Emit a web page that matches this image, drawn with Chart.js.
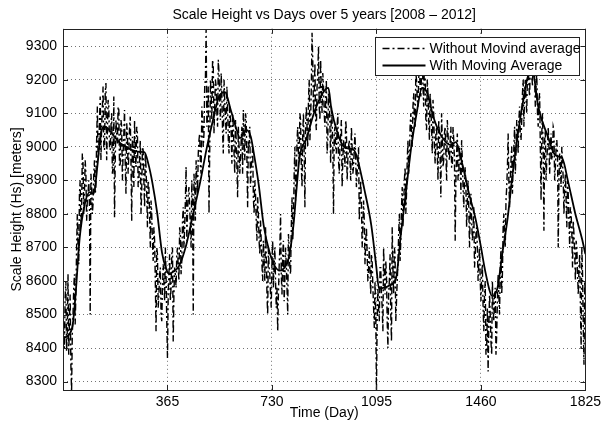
<!DOCTYPE html>
<html>
<head>
<meta charset="utf-8">
<script src="https://cdn.jsdelivr.net/npm/chart.js@4.4.1/dist/chart.umd.min.js"></script>
<style>
html,body{margin:0;padding:0;background:#fff;}
#wrap{width:605px;height:426px;}
</style>
</head>
<body>
<div id="wrap"><canvas id="c" width="605" height="426"></canvas></div>
<script>
// ---------------- data ----------------
const titleText = 'Scale Height vs Days over 5 years [2008 \u2013 2012]';
const xTitle = 'Time (Day)';
const yTitle = 'Scale Height (Hs) [meters]';
const seriesNames = ['Without Movind average', 'With Moving Average'];

const xTicks = [365, 730, 1095, 1460, 1825];
const yTicks = [8300, 8400, 8500, 8600, 8700, 8800, 8900, 9000, 9100, 9200, 9300];

// raw readings on days 0, 5, 10, ... 1825
const noisyStepDays = 5;
const noisyValues = [
  8520,8400,8600,8450,8380,8560,8270,8500,8620,8560,
  8800,8650,8900,8820,8950,8870,8920,8840,8900,8500,
  8880,8830,8960,8880,9120,8990,9150,9060,9180,8990,
  9190,9050,9120,8990,9100,8940,8790,9080,9010,9110,
  8950,9060,8980,9110,8860,9040,8980,9090,8780,9000,
  9080,8940,9040,8900,9020,8870,8990,8820,8940,8760,
  8880,8700,8800,8660,8720,8450,8680,8560,8640,8480,
  8650,8540,8620,8370,8620,8540,8680,8420,8640,8580,
  8700,8600,8740,8660,8820,8760,8940,8800,8880,8760,
  8900,8500,8880,8960,8860,9020,8940,9120,9000,9180,
  9350,9100,8800,9200,9080,9240,9120,9180,9060,9220,
  9080,9160,8980,9140,9040,9120,8980,9080,8950,9060,
  8920,9020,8850,9000,8960,9060,9110,8960,9080,8820,
  9000,8880,8960,8850,8900,8780,8850,8720,8780,8650,
  8720,8600,8680,8500,8640,8560,8660,8580,8700,8520,
  8450,8640,8800,8560,8720,8600,8650,8500,8700,8620,
  8850,8780,9000,8900,9060,8960,9080,8880,9100,8820,
  9120,9000,9200,9080,9340,9100,9250,9050,9220,9120,
  9260,9100,9180,9060,9200,9020,9140,8950,9080,8800,
  9060,8980,9100,8920,9040,8880,9020,8940,9050,8960,
  9020,8900,9000,8940,9040,8880,8960,8780,8900,8700,
  8840,8650,8760,8600,8700,8560,8660,8520,8600,8270,
  8580,8480,8640,8520,8700,8560,8620,8400,8600,8500,
  8760,8560,8680,8540,8650,8800,8720,8880,8820,8940,
  8860,9020,8960,9100,9000,9160,9060,9200,9120,9250,
  9150,9270,9120,9220,9050,9160,9020,9120,8980,9100,
  8950,9060,8900,9040,8850,9020,8960,9060,8900,9040,
  8960,9060,8940,9020,8720,8980,8900,9000,8860,8960,
  8820,8940,8760,8900,8700,8860,8720,8820,8680,8760,
  8600,8700,8540,8650,8450,8600,8400,8330,8560,8420,
  8600,8480,8580,8440,8620,8500,8700,8620,8800,8700,
  8880,9040,8820,8960,8860,9000,8920,9080,8980,9120,
  9020,9160,9060,9200,9100,9260,9150,9300,9180,9280,
  9120,9220,9060,9160,8840,9100,8750,9050,8960,9060,
  8920,9040,8980,9050,8940,9020,8700,8980,8880,8960,
  8800,8920,8760,8860,8700,8800,8640,8740,8600,8700,
  8560,8680,8400,8620,8350,8560
];
// raw readings on the days in between: 2.5, 7.5, ... 1822.5
const noisyMidValues = [
  8460,8550,8390,8620,8480,8350,8440,8580,8470,8700,
  8700,8860,8760,8980,8800,8960,8780,8860,8820,8920,
  8800,8920,8860,9020,8960,9080,8960,9120,9000,9160,
  8960,9140,9000,9060,8920,9150,8960,9040,9120,8940,
  9080,8900,9040,8940,9070,8920,9060,8950,9030,8880,
  8980,9060,8880,8960,8800,9000,8900,8980,8860,8900,
  8800,8840,8720,8760,8600,8700,8520,8620,8500,8580,
  8600,8700,8480,8560,8680,8580,8700,8560,8620,8680,
  8640,8760,8620,8780,8700,8840,8720,8860,8820,8700,
  8820,8920,8780,8900,8980,9040,8920,9080,9040,9200,
  9060,9180,8980,9160,9260,9040,9200,9100,9260,9140,
  9220,9040,9200,9080,9180,9020,9120,9040,9100,8980,
  9080,8940,9060,8920,9020,8920,9040,9100,8960,9020,
  9060,8940,9000,8800,8860,8720,8800,8680,8720,8600,
  8660,8760,8560,8700,8620,8520,8720,8640,8600,8580,
  8560,8700,8620,8680,8540,8700,8580,8740,8640,8760,
  8720,8920,8840,9020,8980,9100,8940,9040,8980,9060,
  9060,9140,9020,9180,9260,9160,9080,9180,9300,9080,
  9160,9220,9100,9140,8980,9160,9060,9120,9000,9040,
  9000,9060,8960,9000,9080,8960,8980,9080,8900,9000,
  8960,9060,8920,9000,8960,8920,9000,8840,8840,8760,
  8780,8720,8680,8640,8620,8680,8580,8460,8500,8480,
  8520,8640,8560,8450,8620,8660,8480,8560,8680,8420,
  8640,8700,8480,8600,8740,8660,8820,8760,8900,8800,
  8960,8920,9060,9040,9120,9080,9220,9140,9200,9180,
  9220,9180,9260,9080,9200,9080,9160,9060,9140,9000,
  9040,8980,9080,8960,9100,8940,9040,8980,9080,8980,
  9020,8940,9060,8960,8900,9040,8920,8960,9020,8880,
  8900,8880,8840,8820,8800,8780,8760,8640,8740,8700,
  8660,8600,8620,8520,8560,8380,8520,8460,8500,8380,
  8520,8560,8380,8540,8560,8640,8560,8760,8740,8840,
  8940,8900,8900,9000,8940,9060,8980,9040,9080,9040,
  9080,9200,9160,9140,9220,9180,9240,9220,9260,9200,
  9180,9100,9140,9000,9040,8980,9020,8900,9000,9000,
  9000,8960,9060,8900,9000,8980,8900,8940,9000,8900,
  8880,8840,8900,8780,8820,8740,8780,8680,8720,8620,
  8640,8520,8700,8460,8600
];

// moving average curve
const smoothDays = [
  0,20,34,44,58,75,93,107,121,131,145,162,180,201,221,242,267,284,298,312,329,346,360,371,388,406,430,451,
  479,503,524,545,566,586,607,618,628,642,656,666,684,701,722,739,757,774,788,805,816,826,851,878,909,927,
  937,958,983,1003,1017,1028,1052,1077,1094,1104,1122,1139,1163,1181,1198,1216,1236,1254,1271,1295,1320,1355,
  1372,1396,1417,1441,1459,1476,1500,1518,1535,1553,1570,1587,1605,1626,1640,1661,1692,1720,1744,1765,1789,1813,1825
];
const smoothValues = [
  8430,8440,8470,8560,8726,8825,8865,8860,8950,9035,9060,9050,9030,9010,9000,8990,8985,8984,8950,8894,8803,8684,8637,8622,8630,8646,8706,8786,
  8894,9000,9080,9150,9163,9110,9050,9026,9035,9050,9030,8984,8885,8766,8684,8646,8631,8640,8667,8766,8876,8966,9026,9104,9163,9176,
  9116,9044,8999,8995,8990,8966,8876,8766,8646,8577,8580,8586,8607,8745,8865,8996,9104,9176,9163,9086,9035,9005,
  9014,8945,8865,8786,8706,8625,8555,8580,8684,8786,8915,9026,9125,9215,9224,9116,9035,8975,8966,8894,8803,8726,8680
];

// ---------------- chart ----------------
const FONT = "'Liberation Sans', Arial, Helvetica, sans-serif";
const noisyPts = [];
noisyValues.forEach((v, i) => {
  noisyPts.push({x: i * noisyStepDays, y: v});
  if (i < noisyMidValues.length) noisyPts.push({x: i * noisyStepDays + noisyStepDays / 2, y: noisyMidValues[i]});
});
const smoothPts = smoothDays.map((d, i) => ({x: d, y: smoothValues[i]}));

const frameAndLegend = {
  id: 'frameAndLegend',
  afterDatasetsDraw(chart) {
    const {ctx, chartArea: a, scales: {x, y}} = chart;
    ctx.save();
    ctx.strokeStyle = '#222';
    ctx.lineWidth = 1;
    ctx.setLineDash([]);
    ctx.strokeRect(Math.round(a.left) + 0.5, Math.round(a.top) + 0.5,
                   Math.round(a.right - a.left), Math.round(a.bottom - a.top));
    ctx.beginPath();
    xTicks.forEach(t => {
      const px = Math.round(x.getPixelForValue(t)) + 0.5;
      ctx.moveTo(px, a.bottom); ctx.lineTo(px, a.bottom - 5);
      ctx.moveTo(px, a.top); ctx.lineTo(px, a.top + 5);
    });
    yTicks.forEach(t => {
      const py = Math.round(y.getPixelForValue(t)) + 0.5;
      ctx.moveTo(a.left, py); ctx.lineTo(a.left + 5, py);
      ctx.moveTo(a.right, py); ctx.lineTo(a.right - 5, py);
    });
    ctx.stroke();
    // legend box inside the plot, top-right
    const bw = 204, bh = 38;
    const bx = Math.round(a.right) - 6 - bw + 0.5;
    const by = Math.round(a.top) + 8 + 0.5;
    ctx.fillStyle = '#fff';
    ctx.fillRect(bx, by, bw, bh);
    ctx.strokeStyle = '#222';
    ctx.strokeRect(bx, by, bw, bh);
    const rows = [by + 11, by + 28];
    const ds = chart.data.datasets;
    rows.forEach((ry, i) => {
      ctx.beginPath();
      ctx.strokeStyle = '#000';
      ctx.lineWidth = ds[i].borderWidth;
      ctx.setLineDash(ds[i].borderDash || []);
      ctx.moveTo(bx + 7, ry); ctx.lineTo(bx + 50, ry);
      ctx.stroke();
      ctx.setLineDash([]);
      ctx.fillStyle = '#000';
      ctx.font = '14px ' + FONT;
      ctx.textBaseline = 'middle';
      ctx.textAlign = 'left';
      ctx.fillText(seriesNames[i], bx + 54, ry + 1);
    });
    ctx.restore();
  }
};

new Chart(document.getElementById('c'), {
  type: 'line',
  data: {
    datasets: [
      {
        label: seriesNames[0],
        data: noisyPts,
        borderColor: '#000',
        borderWidth: 1.4,
        borderDash: [7, 3, 2, 3],
        pointRadius: 0,
        tension: 0,
        fill: false,
        order: 1
      },
      {
        label: seriesNames[1],
        data: smoothPts,
        borderColor: '#000',
        borderWidth: 1.8,
        pointRadius: 0,
        cubicInterpolationMode: 'monotone',
        fill: false,
        order: 0
      }
    ]
  },
  plugins: [frameAndLegend],
  options: {
    responsive: false,
    animation: false,
    devicePixelRatio: 1,
    layout: {padding: {left: 0, right: 16, top: 0, bottom: 0}},
    plugins: {
      legend: {display: false},
      tooltip: {enabled: false},
      title: {
        display: true,
        text: titleText,
        fullSize: false,
        color: '#000',
        font: {family: FONT, size: 14, weight: 'normal'},
        padding: {top: 7, bottom: 5}
      }
    },
    scales: {
      x: {
        type: 'linear',
        min: 0,
        max: 1825,
        afterBuildTicks: s => { s.ticks = [0].concat(xTicks).map(v => ({value: v})); },
        afterFit: s => { s.height = 36; },
        grid: {color: 'rgba(0,0,0,0.55)', lineWidth: 1, drawTicks: false, tickLength: 0},
        border: {display: false, dash: [1, 3]},
        ticks: {
          color: '#000',
          font: {family: FONT, size: 14},
          padding: 4,
          maxRotation: 0,
          autoSkip: false,
          callback: v => (v === 0 ? '' : String(v))
        },
        title: {display: true, text: xTitle, color: '#000', font: {family: FONT, size: 14}, padding: {top: 0, bottom: 4}}
      },
      y: {
        type: 'linear',
        min: 8275,
        max: 9352,
        afterBuildTicks: s => { s.ticks = yTicks.map(v => ({value: v})); },
        afterFit: s => { s.width = 63; },
        grid: {color: 'rgba(0,0,0,0.55)', lineWidth: 1, drawTicks: false, tickLength: 0},
        border: {display: false, dash: [1, 3]},
        ticks: {
          color: '#000',
          font: {family: FONT, size: 14},
          padding: 6,
          autoSkip: false,
          callback: v => String(v)
        },
        title: {display: true, text: yTitle, color: '#000', font: {family: FONT, size: 14}, padding: {top: 9, bottom: 0}}
      }
    }
  }
});
</script>
</body>
</html>
